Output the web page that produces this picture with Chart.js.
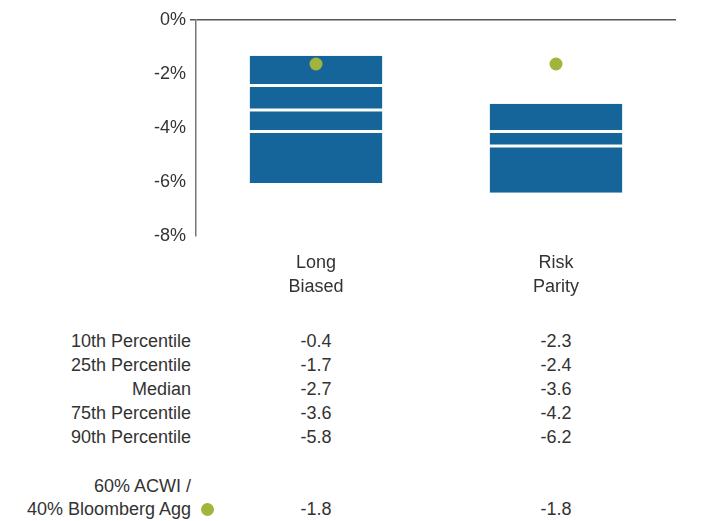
<!DOCTYPE html>
<html>
<head>
<meta charset="utf-8">
<script src="https://cdn.jsdelivr.net/npm/chart.js@4/dist/chart.umd.min.js"></script>
<style>
  html, body { margin:0; padding:0; background:#fff; }
  body { width:727px; height:521px; position:relative; overflow:hidden;
         font-family:"Liberation Sans", Arial, sans-serif; font-size:18px; color:#333; }
  #chart { position:absolute; left:0; top:0; }
  .cell { position:absolute; white-space:nowrap; line-height:24px; }
  .lbl { text-align:right; }
  .val { transform:translateX(-50%); }
  .dot { position:absolute; width:13px; height:13px; border-radius:50%; background:#a2b43c; }
</style>
</head>
<body>
<canvas id="chart" width="727" height="310"></canvas>
<div id="table"></div>
<script>
/* Drawdown percentile ranges vs 60/40 benchmark */
const categories = [['Long', 'Biased'], ['Risk', 'Parity']];
const yTicks = [0, -2, -4, -6, -8];

// bar edges as drawn in the chart (top to bottom)
const edge10 = [-1.32, -3.10];
const edge25 = [-2.43, -3.10];
const edgeMedian = [-3.33, -4.13];
const edge75 = [-4.13, -4.67];
const edge90 = [-6.04, -6.40];
const benchmark = [-1.63, -1.63];

// table below the chart
const rowLabels = ['10th Percentile', '25th Percentile', 'Median', '75th Percentile', '90th Percentile'];
const longBiasedTable = [-0.4, -1.7, -2.7, -3.6, -5.8];
const riskParityTable = [-2.3, -2.4, -3.6, -4.2, -6.2];
const benchmarkTable = [-1.8, -1.8];

const BLUE = '#16659a';
const GREEN = '#a2b43c';
const TEXT = '#333333';
const FONT = { family: '"Liberation Sans", Arial, sans-serif', size: 18 };

const edges = [edge10, edge25, edgeMedian, edge75, edge90];
const segments = [];
for (let s = 0; s < edges.length - 1; s++) {
  segments.push(categories.map((c, i) => edges[s][i] === edges[s + 1][i] ? null : [edges[s][i], edges[s + 1][i]]));
}
// first / last drawn segment per category, so only inner joins get a white gap
const firstSeg = categories.map((c, i) => segments.findIndex(seg => seg[i] !== null));
const lastSeg = categories.map((c, i) => segments.length - 1 - [...segments].reverse().findIndex(seg => seg[i] !== null));

const barSets = segments.map((seg, s) => ({
  type: 'bar',
  data: seg,
  backgroundColor: BLUE,
  borderColor: '#ffffff',
  borderSkipped: false,
  borderWidth: ctx => ({
    top: s === firstSeg[ctx.dataIndex] ? 0 : 1.5,
    bottom: s === lastSeg[ctx.dataIndex] ? 0 : 1.5,
    left: 0, right: 0
  }),
  grouped: false,
  categoryPercentage: 1,
  barPercentage: 0.553,
  order: 1
}));

const chart = new Chart(document.getElementById('chart'), {
  data: {
    labels: categories,
    datasets: [
      { type: 'line', data: benchmark, showLine: false, pointRadius: 6.5, pointHoverRadius: 6.5,
        pointBackgroundColor: GREEN, pointBorderWidth: 0, order: 0 },
      ...barSets
    ]
  },
  options: {
    responsive: false,
    animation: false,
    layout: { padding: { top: 20, right: 51, left: 0, bottom: 0 } },
    plugins: { legend: { display: false }, tooltip: { enabled: false } },
    scales: {
      x: {
        position: 'bottom',
        grid: { display: false },
        border: { display: false },
        ticks: { font: { ...FONT, lineHeight: 1.28 }, color: TEXT, padding: 8 },
        afterFit: s => { s.height = 74; }
      },
      y: {
        min: -8, max: 0,
        afterBuildTicks: s => { s.ticks = yTicks.map(v => ({ value: v })); },
        ticks: { font: FONT, color: TEXT, padding: 4, callback: v => v + '%' },
        grid: { color: ctx => ctx.tick && ctx.tick.value === 0 ? '#555555' : 'rgba(0,0,0,0)', lineWidth: 1.5, tickLength: 6 },
        border: { display: true, color: '#777777', width: 1.5 },
        afterFit: s => { s.width = 196; }
      }
    }
  }
});

// table aligned with the category centres
const table = document.getElementById('table');
const colX = categories.map((c, i) => chart.scales.x.getPixelForValue(i));
const cols = [longBiasedTable, riskParityTable];
function cell(text, cls, style) {
  const d = document.createElement('div');
  d.className = 'cell ' + cls;
  d.textContent = text;
  Object.assign(d.style, style);
  table.appendChild(d);
}
const rowTops = [328.5, 353, 377, 400.7, 424.7];
rowLabels.forEach((r, k) => {
  cell(r, 'lbl', { right: (727 - 191) + 'px', top: rowTops[k] + 'px' });
  cols.forEach((col, i) => cell(col[k].toFixed(1), 'val', { left: colX[i] + 'px', top: rowTops[k] + 'px' }));
});
cell('60% ACWI /', 'lbl', { right: (727 - 191) + 'px', top: '473.7px' });
cell('40% Bloomberg Agg', 'lbl', { right: (727 - 191) + 'px', top: '496.7px' });
benchmarkTable.forEach((v, i) => cell(v.toFixed(1), 'val', { left: colX[i] + 'px', top: '496.7px' }));
const dot = document.createElement('div');
dot.className = 'dot';
dot.style.left = '201px';
dot.style.top = '502.5px';
table.appendChild(dot);
</script>
</body>
</html>
